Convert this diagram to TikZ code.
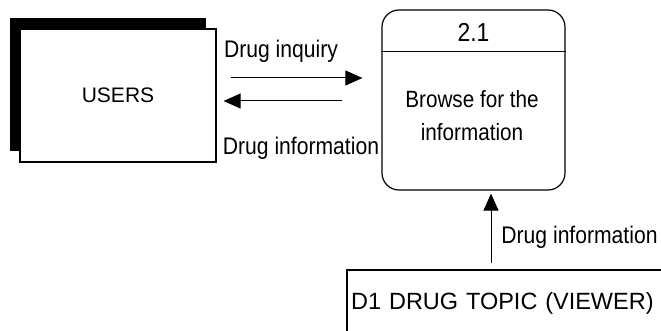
\documentclass[tikz,border=0pt]{standalone}
\usepackage{fontspec}
\setmainfont{Liberation Sans}
\newfontfamily\narrowfont{Liberation Sans}[FakeStretch=0.88]
\usetikzlibrary{arrows.meta, positioning, shadows}

\tikzset{
  entity/.style={draw, fill=white, line width=1.2pt, inner sep=0pt,
    minimum width=196pt, minimum height=133pt,
    font=\fontsize{21}{25}\selectfont,
    general shadow={fill=black, shadow xshift=-10pt, shadow yshift=11pt}},
  process/.style={draw, line width=1.2pt, rounded corners=17pt, inner sep=0pt,
    minimum width=183pt, minimum height=180pt},
  flow/.style={-{Triangle[length=17pt,width=15pt]}, line width=1pt},
  lbl/.style={font=\narrowfont\fontsize{24}{28}\selectfont, inner sep=0pt},
}

\begin{document}
\begin{tikzpicture}[x=1pt, y=-1pt]
  \useasboundingbox (0,0) rectangle (661,331);

  % --- External entity ---
  \node[entity] (users) at (118,95.5) {USERS};

  % --- Process 2.1 ---
  \node[process] (browse) at (473.5,100) {};
  \draw[line width=1.2pt] ([yshift=-42pt]browse.north west) -- ([yshift=-42pt]browse.north east);
  \node[font=\narrowfont\fontsize{26}{30}\selectfont] (num) at (473.5,32) {2.1};
  \node[lbl, align=center, font=\narrowfont\fontsize{23.5}{33}\selectfont] (task) at (472,116) {Browse for the\\information};

  % --- Data store ---
  \node[anchor=north west, text width=310pt, inner xsep=4pt, minimum height=66pt,
    align=left, font=\fontsize{23.5}{28}\selectfont] (store) at (347,270) {D1 DRUG TOPIC (VIEWER)};
  \draw[line width=1.2pt] (store.south west) -- (store.north west) -- (store.north east);

  % --- Data flows ---
  \draw[flow, shorten <=14pt, shorten >=19pt] ([yshift=17.5pt]users.east) -- ([yshift=17.5pt]users.east -| browse.west);
  \draw[flow, shorten <=39pt, shorten >=7pt] ([yshift=-5.5pt]users.east -| browse.west) -- ([yshift=-5.5pt]users.east);
  \draw[flow, shorten <=7pt, shorten >=3pt] ([xshift=17.5pt]browse.south |- store.north) -- ([xshift=17.5pt]browse.south);

  % labels
  \node[lbl] (inq) at (281,51) {Drug inquiry};
  \node[lbl] (info) at (301,148) {Drug information};
  \node[lbl] (info2) at (579.5,237) {Drug information};
\end{tikzpicture}
\end{document}
